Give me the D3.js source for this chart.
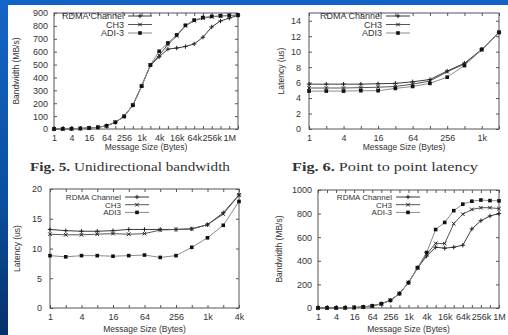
<!DOCTYPE html>
<html><head><meta charset="utf-8">
<script src="https://cdn.jsdelivr.net/npm/d3@7"></script>
<style>
html,body{margin:0;padding:0;background:#fff;}
svg{display:block;}
text{font-family:"Liberation Sans",Arial,sans-serif;fill:#333;}
</style></head><body>
<svg id="c" width="508" height="335"></svg>
<script>
// ---------- DATA ----------
const seriesNames = ["RDMA Channel", "CH3", "ADI-3"];
const seriesNamesLat = ["RDMA Channel", "CH3", "ADI3"];

// Fig 5: unidirectional bandwidth, sizes 2^0 .. 2^21
const uniExp = d3.range(0, 22);
const uniRDMA = [0,1,2,4,8,13,25,52,98,185,333,495,560,620,628,640,660,712,792,838,860,882];
const uniCH3  = [0,1,2,4,8,13,25,52,98,185,333,495,572,655,722,800,840,860,870,876,880,883];
const uniADI  = [0,1,2,4,8,13,25,52,98,185,333,497,603,668,730,805,845,865,874,878,882,884];
const uniYTicks = [0,100,200,300,400,500,600,700,800,900];

// Fig 6: point to point latency, sizes 2^0 .. 2^11
const latExp = d3.range(0, 12);
const latRDMA = [5.8,5.8,5.8,5.8,5.85,5.9,6.1,6.4,7.5,8.5,10.3,12.5];
const latCH3  = [5.3,5.3,5.3,5.35,5.4,5.5,5.8,6.2,7.4,8.4,10.2,12.5];
const latADI  = [4.9,4.9,4.9,4.95,4.95,5.25,5.5,5.9,6.7,8.2,10.3,12.5];
const latYTicks = [0,2,4,6,8,10,12,14];

// Bottom-left: latency, sizes 2^0 .. 2^12
const lat2Exp = d3.range(0, 13);
const lat2RDMA = [13.2,13.0,12.9,12.9,13.0,13.2,13.2,13.2,13.2,13.3,14.0,16.0,19.0];
const lat2CH3  = [12.4,12.3,12.3,12.4,12.5,12.4,12.5,13.1,13.2,13.3,14.0,15.8,19.0];
const lat2ADI  = [8.8,8.6,8.8,8.8,8.7,8.8,8.9,8.5,8.8,10.2,11.8,13.9,17.9];
const lat2YTicks = [0,5,10,15,20];

// Bottom-right: bandwidth, sizes 2^0 .. 2^20
const bwExp = d3.range(0, 21);
const bwRDMA = [0,1,1,2,4,9,18,36,65,122,215,340,440,515,507,515,532,670,740,780,800];
const bwCH3  = [0,1,1,2,4,9,18,36,65,122,215,340,455,548,546,715,795,835,850,850,842];
const bwADI  = [0,1,1,2,4,9,18,36,65,122,215,342,470,665,725,825,880,905,915,910,908];
const bwYTicks = [0,200,400,600,800,1000];

const sizeLabel = e => e >= 20 ? (2**(e-20))+"M" : e >= 10 ? (2**(e-10))+"k" : String(2**e);

// ---------- DRAW ----------
const svg = d3.select("#c");
const defs = svg.append("defs");
const g1 = defs.append("linearGradient").attr("id","lg").attr("x1",0).attr("y1",0).attr("x2",0).attr("y2",1);
g1.append("stop").attr("offset","0%").attr("stop-color","#1565c8");
g1.append("stop").attr("offset","60%").attr("stop-color","#0a4f9e");
g1.append("stop").attr("offset","100%").attr("stop-color","#06316a");
svg.append("rect").attr("x",0).attr("y",0).attr("width",508).attr("height",335).attr("fill","#fff");
svg.append("rect").attr("x",0).attr("y",0).attr("width",508).attr("height",5).attr("fill","#0f62c6");
svg.append("rect").attr("x",0).attr("y",0).attr("width",8).attr("height",335).attr("fill","url(#lg)");

const styles = [
  {stroke:"#3a3a3a", marker:"plus"},
  {stroke:"#555", marker:"cross"},
  {stroke:"#8a8a8a", marker:"square"}
];

function marker(g, type, x, y){
  if(type==="plus"){
    g.append("path").attr("d",`M${x-2.2},${y}H${x+2.2}M${x},${y-2.2}V${y+2.2}`).attr("stroke","#222").attr("stroke-width",1);
  } else if(type==="cross"){
    g.append("path").attr("d",`M${x-1.8},${y-1.8}L${x+1.8},${y+1.8}M${x-1.8},${y+1.8}L${x+1.8},${y-1.8}`).attr("stroke","#222").attr("stroke-width",1);
  } else {
    g.append("rect").attr("x",x-1.8).attr("y",y-1.8).attr("width",3.6).attr("height",3.6).attr("fill","#111");
  }
}

function chart(cfg){
  const g = svg.append("g");
  const x = d3.scaleLinear().domain([0, cfg.maxExp]).range([cfg.left, cfg.right]);
  const y = d3.scaleLinear().domain(cfg.yDomain).range([cfg.bottom, cfg.top]);
  const W = cfg.right-cfg.left, H = cfg.bottom-cfg.top;
  const xt = d3.range(0, cfg.maxExp+1);
  const xAxisB = d3.axisBottom(x).tickValues(xt).tickSizeInner(-3).tickSizeOuter(0)
      .tickFormat(e => e%2===0 ? sizeLabel(e) : "").tickPadding(6);
  const gx = g.append("g").attr("transform",`translate(0,${cfg.bottom})`).call(xAxisB);
  const xAxisT = d3.axisTop(x).tickValues(xt).tickSizeInner(-3).tickSizeOuter(0).tickFormat("");
  const gxt = g.append("g").attr("transform",`translate(0,${cfg.top})`).call(xAxisT);
  const yAxisL = d3.axisLeft(y).tickValues(cfg.yTicks).tickSizeInner(-3).tickSizeOuter(0)
      .tickFormat(d3.format("d")).tickPadding(cfg.yPad);
  const gy = g.append("g").attr("transform",`translate(${cfg.left},0)`).call(yAxisL);
  const yAxisR = d3.axisRight(y).tickValues(cfg.yTicks).tickSizeInner(-3).tickSizeOuter(0).tickFormat("");
  const gyr = g.append("g").attr("transform",`translate(${cfg.right},0)`).call(yAxisR);
  [gx,gxt,gy,gyr].forEach(a=>{
    a.select(".domain").remove();
    a.selectAll("line").attr("stroke","#555");
    a.selectAll("text").style("font-family","'Liberation Sans',Arial,sans-serif").style("font-size","9px").attr("fill","#333");
  });
  g.append("rect").attr("x",cfg.left).attr("y",cfg.top).attr("width",W).attr("height",H)
    .attr("fill","none").attr("stroke","#555").attr("stroke-width",1);
  cfg.series.forEach((vals,i)=>{
    const pts = cfg.exps.map((e,j)=>[x(e), y(vals[j])]);
    g.append("path").attr("d", d3.line()(pts)).attr("fill","none").attr("stroke",styles[i].stroke).attr("stroke-width",1);
    pts.forEach(p=>marker(g, styles[i].marker, p[0], p[1]));
  });
  cfg.names.forEach((n,i)=>{
    const ly = cfg.legY + i*cfg.legDy;
    g.append("text").attr("x",cfg.legX).attr("y",ly+cfg.legFs*0.35).attr("text-anchor","end")
      .style("font-size",cfg.legFs+"px").text(n);
    g.append("line").attr("x1",cfg.legX+4).attr("x2",cfg.legX+28).attr("y1",ly).attr("y2",ly).attr("stroke",styles[i].stroke);
    marker(g, styles[i].marker, cfg.legX+16, ly);
  });
  g.append("text").attr("x",(cfg.left+cfg.right)/2).attr("y",cfg.xTitleY).attr("text-anchor","middle").style("font-size","8.5px").text("Message Size (Bytes)");
  g.append("text").attr("transform",`translate(${cfg.yTitleX},${(cfg.top+cfg.bottom)/2}) rotate(-90)`).attr("text-anchor","middle").style("font-size","8.5px").text(cfg.yTitle);
}

chart({left:54,right:238,top:13,bottom:129,maxExp:21,yDomain:[0,900],yTicks:uniYTicks,yPad:6,
  exps:uniExp,series:[uniRDMA,uniCH3,uniADI],names:seriesNames,legX:124,legY:16,legDy:8.5,legFs:9,
  xTitleY:150,yTitleX:19,yTitle:"Bandwidth (MB/s)"});
chart({left:309,right:499,top:13,bottom:129,maxExp:11,yDomain:[0,15],yTicks:latYTicks,yPad:8,
  exps:latExp,series:[latRDMA,latCH3,latADI],names:seriesNamesLat,legX:382,legY:16,legDy:8.5,legFs:9,
  xTitleY:150,yTitleX:284,yTitle:"Latency (us)"});
chart({left:50,right:239,top:189,bottom:308,maxExp:12,yDomain:[0,20],yTicks:lat2YTicks,yPad:8,
  exps:lat2Exp,series:[lat2RDMA,lat2CH3,lat2ADI],names:seriesNamesLat,legX:121,legY:197,legDy:7.7,legFs:8,
  xTitleY:332,yTitleX:20,yTitle:"Latency (us)"});
chart({left:318,right:499,top:190,bottom:308,maxExp:20,yDomain:[0,1000],yTicks:bwYTicks,yPad:6,
  exps:bwExp,series:[bwRDMA,bwCH3,bwADI],names:seriesNames,legX:392,legY:197,legDy:7.7,legFs:8,
  xTitleY:332,yTitleX:282,yTitle:"Bandwidth (MB/s)"});

function caption(xc, yb, bold, rest, len){
  const t = svg.append("text").attr("x",xc).attr("y",yb).attr("text-anchor","middle")
    .style("font-family","'Liberation Serif','DejaVu Serif',serif").style("font-size","13px").attr("fill","#222")
    .attr("textLength",len).attr("lengthAdjust","spacingAndGlyphs");
  t.append("tspan").style("font-weight","bold").text(bold);
  t.append("tspan").text(rest);
}
caption(130,171,"Fig. 5.", " Unidirectional bandwidth",200);
caption(385,171,"Fig. 6.", " Point to point latency",186);
</script>
</body></html>
